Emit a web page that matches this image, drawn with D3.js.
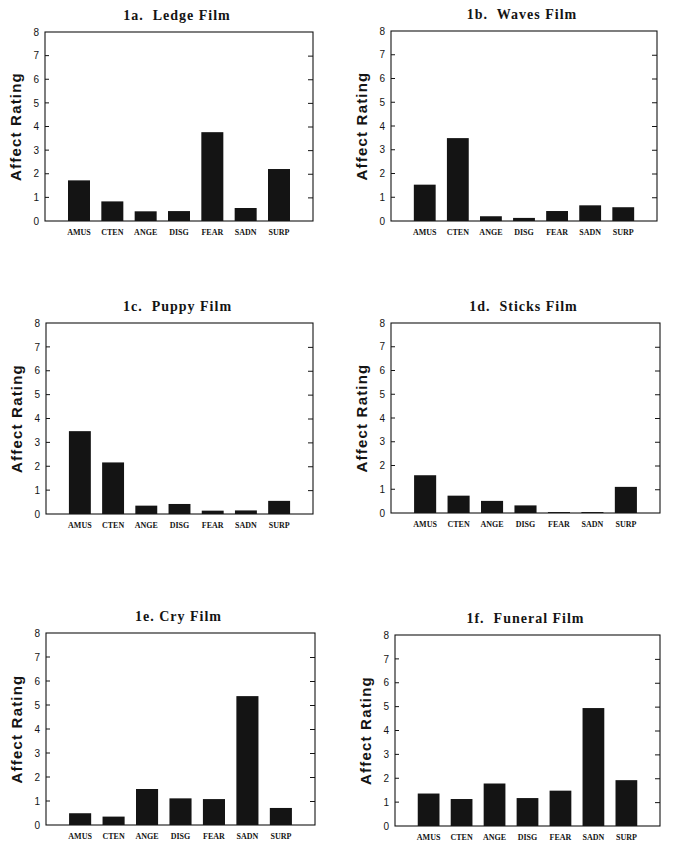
<!DOCTYPE html>
<html>
<head>
<meta charset="utf-8">
<script src="https://cdn.jsdelivr.net/npm/d3@7"></script>
<style>
  html, body { margin: 0; padding: 0; background: #fff; }
  svg { display: block; }
</style>
</head>
<body>
<script>
const categories = ["AMUS", "CTEN", "ANGE", "DISG", "FEAR", "SADN", "SURP"];
const ledgeFilm   = [1.72, 0.83, 0.41, 0.42, 3.76, 0.55, 2.20];
const wavesFilm   = [1.53, 3.49, 0.20, 0.13, 0.42, 0.66, 0.58];
const puppyFilm   = [3.47, 2.16, 0.35, 0.42, 0.14, 0.15, 0.55];
const sticksFilm  = [1.59, 0.73, 0.51, 0.32, 0.04, 0.04, 1.10];
const cryFilm     = [0.49, 0.35, 1.50, 1.11, 1.08, 5.37, 0.71];
const funeralFilm = [1.36, 1.13, 1.78, 1.17, 1.48, 4.94, 1.92];
const panelTitles = ["1a.  Ledge Film", "1b.  Waves Film", "1c.  Puppy Film", "1d.  Sticks Film", "1e. Cry Film", "1f.  Funeral Film"];
const yTicks = [0, 1, 2, 3, 4, 5, 6, 7, 8];
const yLabel = "Affect Rating";

const seriesList = [ledgeFilm, wavesFilm, puppyFilm, sticksFilm, cryFilm, funeralFilm];

// panel frames (layout)
const frames = [
  {x0: 45,  x1: 313, y0: 32,  y1: 221},
  {x0: 391, x1: 657, y0: 31,  y1: 221},
  {x0: 46,  x1: 313, y0: 323, y1: 514},
  {x0: 391, x1: 660, y0: 323, y1: 513},
  {x0: 46,  x1: 315, y0: 633, y1: 825},
  {x0: 395, x1: 660, y0: 635, y1: 826}
];

const W = 673, H = 846;
const ink = "#141414";

const svg = d3.select("body").append("svg")
  .attr("width", W).attr("height", H)
  .attr("viewBox", `0 0 ${W} ${H}`);

frames.forEach((f, i) => {
  const data = categories.map((c, j) => ({cat: c, val: seriesList[i][j]}));
  const x = d3.scaleBand().domain(categories).range([f.x0, f.x1])
    .paddingInner(0.34).paddingOuter(0.69);
  const y = d3.scaleLinear().domain([0, 8]).range([f.y1, f.y0]);

  const g = svg.append("g");

  // bars
  g.selectAll("rect.bar").data(data).enter().append("rect")
    .attr("class", "bar")
    .attr("x", d => x(d.cat))
    .attr("width", x.bandwidth())
    .attr("y", d => y(d.val))
    .attr("height", d => y(0) - y(d.val))
    .attr("fill", ink);

  // frame
  g.append("rect")
    .attr("x", f.x0).attr("y", f.y0)
    .attr("width", f.x1 - f.x0).attr("height", f.y1 - f.y0)
    .attr("fill", "none").attr("stroke", ink).attr("stroke-width", 1.1);

  // left axis (labels outside)
  const leftAxis = d3.axisLeft(y).tickValues(yTicks).tickSize(0).tickPadding(6)
    .tickFormat(d3.format("d"));
  const la = g.append("g").attr("transform", `translate(${f.x0},0)`).call(leftAxis);
  la.select(".domain").remove();
  la.selectAll("text")
    .attr("font-family", "'Liberation Sans', Arial, sans-serif")
    .attr("font-size", 10).attr("fill", ink);
  // inward ticks on left
  g.selectAll("line.lt").data(yTicks.slice(1, -1)).enter().append("line")
    .attr("x1", f.x0).attr("x2", f.x0 + 4)
    .attr("y1", d => y(d)).attr("y2", d => y(d))
    .attr("stroke", ink).attr("stroke-width", 1);
  // inward ticks on right
  const rightAxis = d3.axisRight(y).tickValues(yTicks.slice(1, -1)).tickSize(-5).tickFormat("");
  const ra = g.append("g").attr("transform", `translate(${f.x1},0)`).call(rightAxis);
  ra.select(".domain").remove();
  ra.selectAll("line").attr("stroke", ink);

  // bottom category labels
  const bottomAxis = d3.axisBottom(x).tickSize(0).tickPadding(8);
  const ba = g.append("g").attr("transform", `translate(0,${f.y1})`).call(bottomAxis);
  ba.select(".domain").remove();
  ba.selectAll("text")
    .attr("font-family", "'Liberation Serif', 'Times New Roman', serif")
    .attr("font-weight", "bold")
    .attr("font-size", 8).attr("fill", ink);

  // title
  g.append("text")
    .attr("x", (f.x0 + f.x1) / 2 - 2)
    .attr("y", f.y0 - 12)
    .attr("text-anchor", "middle")
    .attr("font-family", "'Liberation Serif', 'Times New Roman', serif")
    .attr("font-weight", 600)
    .attr("font-size", 14)
    .attr("letter-spacing", "1px")
    .attr("fill", ink)
    .style("white-space", "pre")
    .text(panelTitles[i]);

  // y label
  const cy = (f.y0 + f.y1) / 2;
  const lx = f.x0 - 28;
  g.append("text")
    .attr("transform", `translate(${lx},${cy}) rotate(-90)`)
    .attr("text-anchor", "middle")
    .attr("dominant-baseline", "middle")
    .attr("font-family", "'Liberation Sans', Arial, sans-serif")
    .attr("font-weight", "bold")
    .attr("font-size", 15)
    .attr("letter-spacing", "1.2px")
    .attr("fill", ink)
    .text(yLabel);
});
</script>
</body>
</html>
